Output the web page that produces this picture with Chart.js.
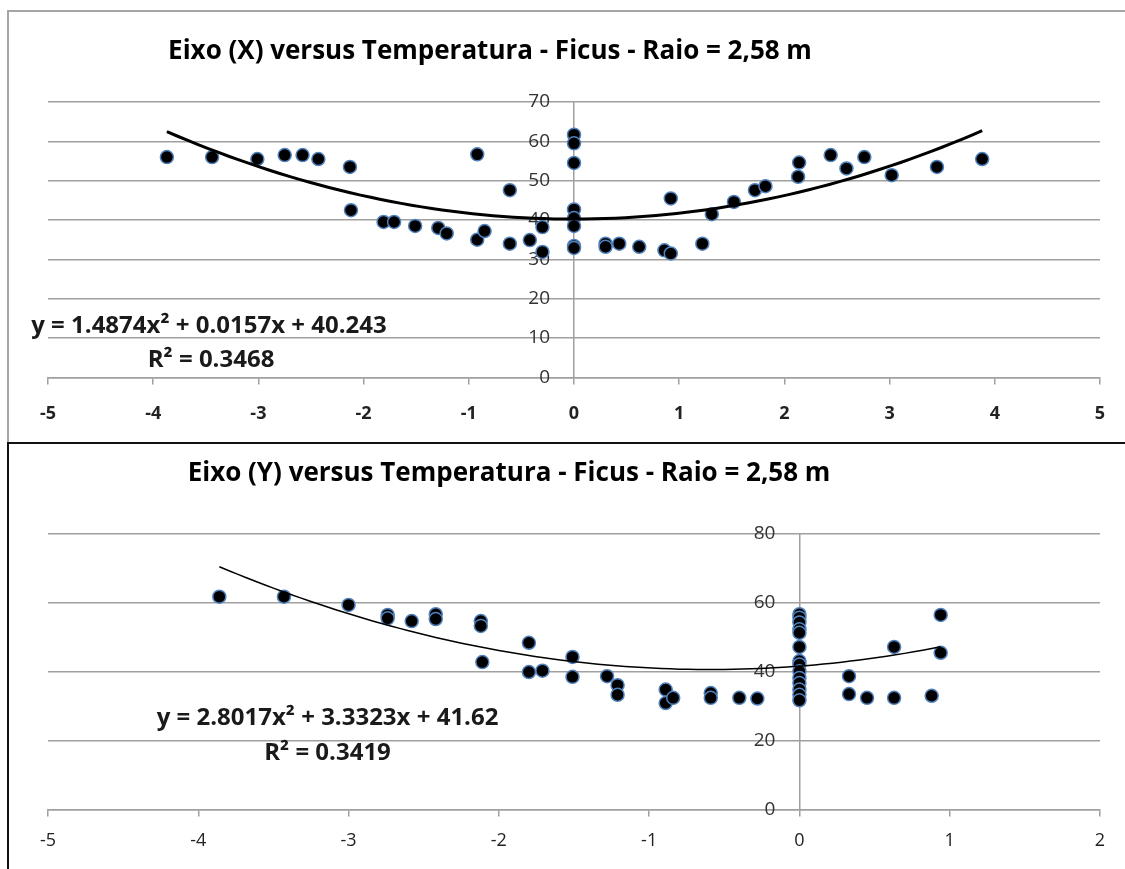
<!DOCTYPE html>
<html>
<head>
<meta charset="utf-8">
<script src="https://cdn.jsdelivr.net/npm/chart.js@4.4.1/dist/chart.umd.min.js"></script>
<style>
    html, body { margin: 0; padding: 0; background: #fff; }
    body { width: 1125px; height: 869px; position: relative; overflow: hidden; }
    .quadro { position: absolute; }
    #quadro-x { left: 7px; top: 10px; width: 1118px; height: 431px; border-top: 2px solid #a6a6a6; border-left: 2px solid #a6a6a6; }
    #quadro-y { left: 7px; top: 442px; width: 1118px; height: 427px; border-top: 2px solid #111; border-left: 2px solid #111; }
    .caixa { position: absolute; left: 0; }
    #caixa-x { top: 0; width: 1125px; height: 444px; }
    #caixa-y { top: 437px; width: 1125px; height: 432px; }
</style>
</head>
<body>
<div class="quadro" id="quadro-x"></div>
<div class="quadro" id="quadro-y"></div>
<div class="caixa" id="caixa-x"><canvas id="grafico-x" width="1125" height="444"></canvas></div>
<div class="caixa" id="caixa-y"><canvas id="grafico-y" width="1125" height="432"></canvas></div>
<script>
// Eixo (X) - posição (m) e temperatura
const posicaoX = [-3.87, -3.44, -3.01, -2.75, -2.58, -2.43, -2.13, -2.12,
    -1.81, -1.71, -1.51, -1.29, -1.21,
    -0.92, -0.92, -0.85, -0.61, -0.61, -0.42, -0.30, -0.30,
    0, 0, 0, 0, 0, 0, 0, 0,
    0.30, 0.30, 0.43, 0.62, 0.86, 0.92, 0.92,
    1.22, 1.31, 1.52, 1.72, 1.82,
    2.13, 2.14, 2.44, 2.59, 2.76,
    3.02, 3.45, 3.88];
const temperaturaX = [56, 56, 55.5, 56.5, 56.5, 55.5, 53.5, 42.5,
    39.5, 39.5, 38.5, 38, 36.6,
    56.7, 35, 37.2, 47.6, 34, 34.9, 38.2, 31.9,
    61.7, 59.5, 54.5, 42.7, 40.5, 38.5, 33.4, 32.9,
    34, 33.2, 34, 33.2, 32.3, 31.5, 45.5,
    34, 41.5, 44.6, 47.6, 48.6,
    51, 54.6, 56.5, 53.1, 56,
    51.4, 53.5, 55.5];

// Eixo (Y)
const posicaoY = [-3.86, -3.43, -3.00, -2.74, -2.74, -2.58, -2.42, -2.42,
    -2.12, -2.12, -2.11, -1.80, -1.80, -1.71, -1.51, -1.51,
    -1.28, -1.21, -1.21, -0.89, -0.89, -0.84, -0.59, -0.59, -0.40, -0.28,
    0, 0, 0, 0, 0, 0, 0, 0, 0, 0, 0, 0, 0, 0,
    0.33, 0.33, 0.45, 0.63, 0.63, 0.88, 0.94, 0.94];
const temperaturaY = [61.8, 61.8, 59.4, 56.5, 55.5, 54.7, 56.7, 55.3,
    54.7, 53.3, 42.8, 48.4, 39.9, 40.3, 44.3, 38.5,
    38.7, 36.1, 33.3, 34.8, 30.9, 32.4, 33.8, 32.4, 32.4, 32.2,
    56.7, 55.7, 54.3, 52.3, 51.3, 47.2, 43.1, 42.1, 40.1, 38.2, 36.7, 34.8, 33.3, 31.7,
    38.7, 33.5, 32.4, 47.2, 32.4, 33, 56.5, 45.5];

// coeficientes da linha de tendência polinomial (a, b, c) e R²
const tendenciaX = [1.4874, 0.0157, 40.243];
const tendenciaY = [2.8017, 3.3323, 41.62];
const r2X = '0.3468';
const r2Y = '0.3419';

const fonte = '"Open Sans", Lato, sans-serif';
const cinza = '#a0a0a0';

function pontos(xs, ys) {
    return xs.map((x, i) => ({ x: x, y: ys[i] }));
}

// curva da tendência entre o menor e o maior x
function curva(xs, coef) {
    const ini = Math.min(...xs);
    const fim = Math.max(...xs);
    const lista = [];
    const passos = 80;
    for (let i = 0; i <= passos; i++) {
        const x = ini + (fim - ini) * i / passos;
        lista.push({ x: x, y: coef[0] * x * x + coef[1] * x + coef[2] });
    }
    return lista;
}

function textoEquacao(coef) {
    return 'y = ' + coef[0] + 'x² + ' + coef[1] + 'x + ' + coef[2];
}

// título (no Excel ele não fica centrado no gráfico)
const pluginTitulo = {
    id: 'tituloLivre',
    afterDraw(chart, args, opts) {
        const ctx = chart.ctx;
        ctx.save();
        ctx.font = 'bold 26px ' + fonte;
        ctx.fillStyle = '#000';
        ctx.textAlign = 'center';
        ctx.textBaseline = 'middle';
        ctx.fillText(opts.texto, opts.x, opts.y);
        ctx.restore();
    }
};

// rótulos do eixo vertical, desenhados à esquerda do eixo em x = 0
const pluginRotulosY = {
    id: 'rotulosY',
    beforeDatasetsDraw(chart) {
        const ctx = chart.ctx;
        const sx = chart.scales.x;
        const sy = chart.scales.y;
        const xEixo = sx.getPixelForValue(0);
        ctx.save();
        ctx.font = '19px ' + fonte;
        ctx.fillStyle = '#333';
        ctx.textAlign = 'right';
        ctx.textBaseline = 'middle';
        sy.ticks.forEach(t => {
            ctx.fillText(String(t.value), xEixo - 24, sy.getPixelForValue(t.value));
        });
        ctx.restore();
    }
};

// escreve a equação e o R² na posição dada em valores dos eixos
const pluginEquacao = {
    id: 'equacao',
    afterDatasetsDraw(chart, args, opts) {
        const ctx = chart.ctx;
        const sx = chart.scales.x;
        const sy = chart.scales.y;
        ctx.save();
        ctx.font = 'bold ' + opts.tamanho + 'px ' + fonte;
        ctx.fillStyle = '#1a1a1a';
        ctx.textAlign = 'center';
        ctx.textBaseline = 'middle';
        ctx.fillText(opts.linha1, sx.getPixelForValue(opts.pos1[0]), sy.getPixelForValue(opts.pos1[1]));
        ctx.fillText(opts.linha2, sx.getPixelForValue(opts.pos2[0]), sy.getPixelForValue(opts.pos2[1]));
        ctx.restore();
    }
};

function criarGrafico(id, cfg) {
    const ctx = document.getElementById(id).getContext('2d');
    return new Chart(ctx, {
        type: 'scatter',
        data: {
            datasets: [{
                label: 'Tendência',
                type: 'line',
                data: curva(cfg.xs, cfg.coef),
                borderColor: '#000',
                borderWidth: cfg.larguraLinha,
                pointRadius: 0,
                fill: false,
                tension: 0,
                order: 0
            }, {
                label: 'Temperatura',
                data: pontos(cfg.xs, cfg.ys),
                backgroundColor: '#000',
                borderColor: '#4f81bd',
                borderWidth: 1.5,
                pointRadius: 6.5,
                order: 1
            }]
        },
        options: {
            responsive: false,
            devicePixelRatio: 1,
            animation: false,
            layout: { padding: cfg.padding },
            plugins: {
                legend: { display: false },
                tooltip: { enabled: false },
                title: { display: false },
                tituloLivre: cfg.titulo,
                equacao: cfg.equacao
            },
            scales: {
                x: {
                    type: 'linear',
                    min: cfg.xMin,
                    max: cfg.xMax,
                    ticks: {
                        stepSize: 1,
                        color: '#222',
                        padding: cfg.paddingX,
                        font: { family: fonte, size: 18, weight: cfg.pesoX }
                    },
                    grid: { drawOnChartArea: false, drawTicks: true, tickLength: 7, color: cinza, lineWidth: 1.5 },
                    border: { display: true, color: cinza, width: 1.5 }
                },
                y: {
                    type: 'linear',
                    position: { x: 0 },
                    min: 0,
                    max: cfg.yMax,
                    ticks: { stepSize: cfg.yPasso, display: false },
                    grid: { drawTicks: false, color: cinza, lineWidth: 1.5 },
                    border: { display: true, color: cinza, width: 1.5 }
                }
            }
        },
        plugins: [pluginTitulo, pluginRotulosY, pluginEquacao]
    });
}

criarGrafico('grafico-x', {
    xs: posicaoX,
    ys: temperaturaX,
    coef: tendenciaX,
    larguraLinha: 3,
    titulo: { texto: 'Eixo (X) versus Temperatura - Ficus - Raio = 2,58 m', x: 490, y: 52 },
    padding: { left: 48, right: 25, top: 102, bottom: 0 },
    xMin: -5, xMax: 5, pesoX: 'bold', paddingX: 19,
    yMax: 70, yPasso: 10,
    equacao: { tamanho: 24, linha1: textoEquacao(tendenciaX), linha2: 'R² = ' + r2X, pos1: [-3.47, 13], pos2: [-3.45, 4.3] }
});

criarGrafico('grafico-y', {
    xs: posicaoY,
    ys: temperaturaY,
    coef: tendenciaY,
    larguraLinha: 1.5,
    titulo: { texto: 'Eixo (Y) versus Temperatura - Ficus - Raio = 2,58 m', x: 509, y: 37 },
    padding: { left: 48, right: 25, top: 97, bottom: 3 },
    xMin: -5, xMax: 2, pesoX: 'normal', paddingX: 14,
    yMax: 80, yPasso: 20,
    equacao: { tamanho: 24, linha1: textoEquacao(tendenciaY), linha2: 'R² = ' + r2Y, pos1: [-3.14, 26.4], pos2: [-3.14, 16.2] }
});
</script>
</body>
</html>
